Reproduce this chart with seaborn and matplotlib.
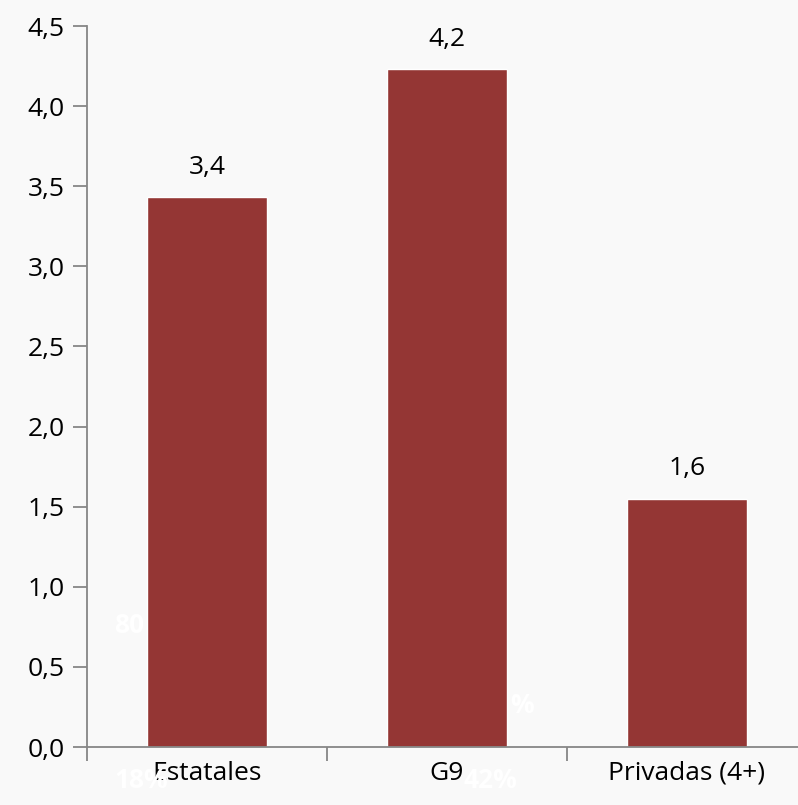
import matplotlib
matplotlib.use("Agg")
import matplotlib.pyplot as plt
import seaborn as sns
import pandas as pd

categories = ["Estatales", "G9", "Privadas (4+)"]
values = [3.43, 4.23, 1.55]
value_labels = ["3,4", "4,2", "1,6"]
y_ticks = [0.0, 0.5, 1.0, 1.5, 2.0, 2.5, 3.0, 3.5, 4.0, 4.5]
y_tick_labels = [f"{t:.1f}".replace(".", ",") for t in y_ticks]

df = pd.DataFrame({"grupo": categories, "valor": values})

sns.set_style("white")
plt.rcParams["font.family"] = ["Open Sans", "DejaVu Sans"]

bg = "#f9f9f9"
fig = plt.figure(figsize=(7.98, 8.05), dpi=100, facecolor=bg)
# axes runs slightly past the right edge like the original
ax = fig.add_axes([87 / 798, 58 / 805, 720 / 798, 721 / 805])
ax.set_facecolor(bg)

sns.barplot(data=df, x="grupo", y="valor", color="#943634", width=0.5,
            saturation=1, ax=ax)

for i, (v, lab) in enumerate(zip(values, value_labels)):
    ax.text(i, v + 0.11, lab, ha="center", va="bottom", fontsize=19, color="black")

ax.set_xlim(-0.5, 2.5)
ax.set_ylim(0, 4.5)
ax.set_yticks(y_ticks)
ax.set_yticklabels(y_tick_labels, fontsize=19)
ax.set_xticks(range(len(categories)))
ax.set_xticklabels(categories, fontsize=19)
ax.set_xticks([-0.5, 0.5, 1.5, 2.5], minor=True)
ax.tick_params(axis="x", which="major", bottom=False, length=0, pad=10,
               labelcolor="black")
ax.tick_params(axis="x", which="minor", bottom=True, length=10,
               color="#868686", width=1.3)
ax.tick_params(axis="y", left=True, length=10, color="#868686", width=1.3, pad=6,
               labelcolor="black")
ax.set_xlabel("")
ax.set_ylabel("")

for s in ["top", "right"]:
    ax.spines[s].set_visible(False)
for s in ["left", "bottom"]:
    ax.spines[s].set_color("#868686")
    ax.spines[s].set_linewidth(1.3)

# leftover white labels from the source slide
ghost = dict(color="white", fontsize=19, fontweight="bold", transform=fig.transFigure)
fig.text(114 / 798, 1 - 625 / 805, "80", va="center", **ghost)
fig.text(114 / 798, 1 - 780 / 805, "18%", va="center", **ghost)
fig.text(510 / 798, 1 - 705 / 805, "%", va="center", **ghost)
fig.text(463 / 798, 1 - 780 / 805, "42%", va="center", **ghost)

fig.savefig("out.png", dpi=100, facecolor=bg)
